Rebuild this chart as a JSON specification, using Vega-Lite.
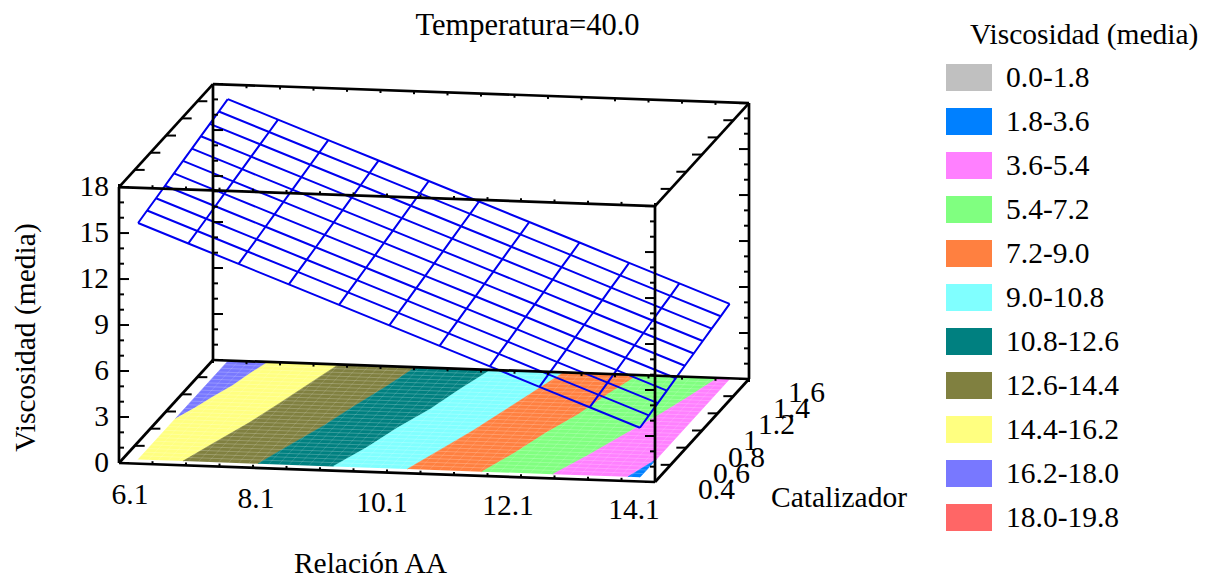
{
"$schema":"https://vega.github.io/schema/vega-lite/v6.json",
"width":1207,"height":576,"autosize":"none","padding":0,
"background":"white",
"title":{"text":"Temperatura=40.0","anchor":"middle","dx":-76,"dy":45,"fontSize":30.5,"font":"Liberation Serif","fontWeight":"normal","color":"#000000"},
"config":{"view":{"stroke":null},"text":{"font":"Liberation Serif","fontSize":29.5,"color":"#000000"}},
"datasets":{
"suelo":[
{"banda":"16.2-18.0","orden":1,"relacion":6.33,"catalizador":0.919},{"banda":"16.2-18.0","orden":2,"relacion":6.33,"catalizador":1.592},{"banda":"16.2-18.0","orden":3,"relacion":6.915,"catalizador":1.592},{"banda":"16.2-18.0","orden":4,"relacion":6.81,"catalizador":1.46},{"banda":"16.2-18.0","orden":5,"relacion":6.72,"catalizador":1.32},{"banda":"16.2-18.0","orden":6,"relacion":6.58,"catalizador":1.18},{"banda":"16.2-18.0","orden":7,"relacion":6.47,"catalizador":1.05},
{"banda":"14.4-16.2","orden":1,"relacion":6.33,"catalizador":0.447},{"banda":"14.4-16.2","orden":2,"relacion":6.33,"catalizador":0.919},{"banda":"14.4-16.2","orden":3,"relacion":6.47,"catalizador":1.05},{"banda":"14.4-16.2","orden":4,"relacion":6.58,"catalizador":1.18},{"banda":"14.4-16.2","orden":5,"relacion":6.72,"catalizador":1.32},{"banda":"14.4-16.2","orden":6,"relacion":6.81,"catalizador":1.46},{"banda":"14.4-16.2","orden":7,"relacion":6.915,"catalizador":1.592},{"banda":"14.4-16.2","orden":8,"relacion":7.97,"catalizador":1.592},{"banda":"14.4-16.2","orden":9,"relacion":7.80,"catalizador":1.363},{"banda":"14.4-16.2","orden":10,"relacion":7.63,"catalizador":1.134},{"banda":"14.4-16.2","orden":11,"relacion":7.45,"catalizador":0.905},{"banda":"14.4-16.2","orden":12,"relacion":7.22,"catalizador":0.676},{"banda":"14.4-16.2","orden":13,"relacion":7.00,"catalizador":0.447},
{"banda":"12.6-14.4","orden":1,"relacion":7.00,"catalizador":0.447},{"banda":"12.6-14.4","orden":2,"relacion":7.22,"catalizador":0.676},{"banda":"12.6-14.4","orden":3,"relacion":7.45,"catalizador":0.905},{"banda":"12.6-14.4","orden":4,"relacion":7.63,"catalizador":1.134},{"banda":"12.6-14.4","orden":5,"relacion":7.80,"catalizador":1.363},{"banda":"12.6-14.4","orden":6,"relacion":7.97,"catalizador":1.592},{"banda":"12.6-14.4","orden":7,"relacion":9.12,"catalizador":1.592},{"banda":"12.6-14.4","orden":8,"relacion":8.95,"catalizador":1.363},{"banda":"12.6-14.4","orden":9,"relacion":8.75,"catalizador":1.134},{"banda":"12.6-14.4","orden":10,"relacion":8.57,"catalizador":0.905},{"banda":"12.6-14.4","orden":11,"relacion":8.34,"catalizador":0.676},{"banda":"12.6-14.4","orden":12,"relacion":8.12,"catalizador":0.447},
{"banda":"10.8-12.6","orden":1,"relacion":8.12,"catalizador":0.447},{"banda":"10.8-12.6","orden":2,"relacion":8.34,"catalizador":0.676},{"banda":"10.8-12.6","orden":3,"relacion":8.57,"catalizador":0.905},{"banda":"10.8-12.6","orden":4,"relacion":8.75,"catalizador":1.134},{"banda":"10.8-12.6","orden":5,"relacion":8.95,"catalizador":1.363},{"banda":"10.8-12.6","orden":6,"relacion":9.12,"catalizador":1.592},{"banda":"10.8-12.6","orden":7,"relacion":10.24,"catalizador":1.592},{"banda":"10.8-12.6","orden":8,"relacion":10.05,"catalizador":1.363},{"banda":"10.8-12.6","orden":9,"relacion":9.89,"catalizador":1.134},{"banda":"10.8-12.6","orden":10,"relacion":9.66,"catalizador":0.905},{"banda":"10.8-12.6","orden":11,"relacion":9.48,"catalizador":0.676},{"banda":"10.8-12.6","orden":12,"relacion":9.24,"catalizador":0.447},
{"banda":"9.0-10.8","orden":1,"relacion":9.24,"catalizador":0.447},{"banda":"9.0-10.8","orden":2,"relacion":9.48,"catalizador":0.676},{"banda":"9.0-10.8","orden":3,"relacion":9.66,"catalizador":0.905},{"banda":"9.0-10.8","orden":4,"relacion":9.89,"catalizador":1.134},{"banda":"9.0-10.8","orden":5,"relacion":10.05,"catalizador":1.363},{"banda":"9.0-10.8","orden":6,"relacion":10.24,"catalizador":1.592},{"banda":"9.0-10.8","orden":7,"relacion":11.33,"catalizador":1.592},{"banda":"9.0-10.8","orden":8,"relacion":11.15,"catalizador":1.363},{"banda":"9.0-10.8","orden":9,"relacion":10.97,"catalizador":1.134},{"banda":"9.0-10.8","orden":10,"relacion":10.79,"catalizador":0.905},{"banda":"9.0-10.8","orden":11,"relacion":10.57,"catalizador":0.676},{"banda":"9.0-10.8","orden":12,"relacion":10.35,"catalizador":0.447},
{"banda":"7.2-9.0","orden":1,"relacion":10.35,"catalizador":0.447},{"banda":"7.2-9.0","orden":2,"relacion":10.57,"catalizador":0.676},{"banda":"7.2-9.0","orden":3,"relacion":10.79,"catalizador":0.905},{"banda":"7.2-9.0","orden":4,"relacion":10.97,"catalizador":1.134},{"banda":"7.2-9.0","orden":5,"relacion":11.15,"catalizador":1.363},{"banda":"7.2-9.0","orden":6,"relacion":11.33,"catalizador":1.592},{"banda":"7.2-9.0","orden":7,"relacion":12.44,"catalizador":1.592},{"banda":"7.2-9.0","orden":8,"relacion":12.25,"catalizador":1.363},{"banda":"7.2-9.0","orden":9,"relacion":12.10,"catalizador":1.134},{"banda":"7.2-9.0","orden":10,"relacion":11.87,"catalizador":0.905},{"banda":"7.2-9.0","orden":11,"relacion":11.69,"catalizador":0.676},{"banda":"7.2-9.0","orden":12,"relacion":11.46,"catalizador":0.447},
{"banda":"5.4-7.2","orden":1,"relacion":11.46,"catalizador":0.447},{"banda":"5.4-7.2","orden":2,"relacion":11.69,"catalizador":0.676},{"banda":"5.4-7.2","orden":3,"relacion":11.87,"catalizador":0.905},{"banda":"5.4-7.2","orden":4,"relacion":12.10,"catalizador":1.134},{"banda":"5.4-7.2","orden":5,"relacion":12.25,"catalizador":1.363},{"banda":"5.4-7.2","orden":6,"relacion":12.44,"catalizador":1.592},{"banda":"5.4-7.2","orden":7,"relacion":13.63,"catalizador":1.592},{"banda":"5.4-7.2","orden":8,"relacion":13.45,"catalizador":1.363},{"banda":"5.4-7.2","orden":9,"relacion":13.25,"catalizador":1.134},{"banda":"5.4-7.2","orden":10,"relacion":13.01,"catalizador":0.905},{"banda":"5.4-7.2","orden":11,"relacion":12.78,"catalizador":0.676},{"banda":"5.4-7.2","orden":12,"relacion":12.52,"catalizador":0.447},
{"banda":"3.6-5.4","orden":1,"relacion":12.52,"catalizador":0.447},{"banda":"3.6-5.4","orden":2,"relacion":12.78,"catalizador":0.676},{"banda":"3.6-5.4","orden":3,"relacion":13.01,"catalizador":0.905},{"banda":"3.6-5.4","orden":4,"relacion":13.25,"catalizador":1.134},{"banda":"3.6-5.4","orden":5,"relacion":13.45,"catalizador":1.363},{"banda":"3.6-5.4","orden":6,"relacion":13.63,"catalizador":1.592},{"banda":"3.6-5.4","orden":7,"relacion":13.82,"catalizador":1.592},{"banda":"3.6-5.4","orden":8,"relacion":13.82,"catalizador":0.655},{"banda":"3.6-5.4","orden":9,"relacion":13.73,"catalizador":0.55},{"banda":"3.6-5.4","orden":10,"relacion":13.64,"catalizador":0.447},
{"banda":"1.8-3.6","orden":1,"relacion":13.64,"catalizador":0.447},{"banda":"1.8-3.6","orden":2,"relacion":13.73,"catalizador":0.55},{"banda":"1.8-3.6","orden":3,"relacion":13.82,"catalizador":0.655},{"banda":"1.8-3.6","orden":4,"relacion":13.82,"catalizador":0.447}
],
"malla":[
{"relacion":6.33,"catalizador":0.447,"viscosidad":15.43},{"relacion":6.33,"catalizador":0.562,"viscosidad":15.60},{"relacion":6.33,"catalizador":0.676,"viscosidad":15.76},{"relacion":6.33,"catalizador":0.791,"viscosidad":15.93},{"relacion":6.33,"catalizador":0.905,"viscosidad":16.10},{"relacion":6.33,"catalizador":1.02,"viscosidad":16.27},{"relacion":6.33,"catalizador":1.134,"viscosidad":16.43},{"relacion":6.33,"catalizador":1.249,"viscosidad":16.60},{"relacion":6.33,"catalizador":1.363,"viscosidad":16.77},{"relacion":6.33,"catalizador":1.478,"viscosidad":16.93},{"relacion":6.33,"catalizador":1.592,"viscosidad":17.10},
{"relacion":7.08,"catalizador":0.447,"viscosidad":14.21},{"relacion":7.08,"catalizador":0.562,"viscosidad":14.38},{"relacion":7.08,"catalizador":0.676,"viscosidad":14.54},{"relacion":7.08,"catalizador":0.791,"viscosidad":14.71},{"relacion":7.08,"catalizador":0.905,"viscosidad":14.88},{"relacion":7.08,"catalizador":1.02,"viscosidad":15.05},{"relacion":7.08,"catalizador":1.134,"viscosidad":15.21},{"relacion":7.08,"catalizador":1.249,"viscosidad":15.38},{"relacion":7.08,"catalizador":1.363,"viscosidad":15.55},{"relacion":7.08,"catalizador":1.478,"viscosidad":15.71},{"relacion":7.08,"catalizador":1.592,"viscosidad":15.88},
{"relacion":7.83,"catalizador":0.447,"viscosidad":12.99},{"relacion":7.83,"catalizador":0.562,"viscosidad":13.16},{"relacion":7.83,"catalizador":0.676,"viscosidad":13.32},{"relacion":7.83,"catalizador":0.791,"viscosidad":13.49},{"relacion":7.83,"catalizador":0.905,"viscosidad":13.66},{"relacion":7.83,"catalizador":1.02,"viscosidad":13.83},{"relacion":7.83,"catalizador":1.134,"viscosidad":13.99},{"relacion":7.83,"catalizador":1.249,"viscosidad":14.16},{"relacion":7.83,"catalizador":1.363,"viscosidad":14.33},{"relacion":7.83,"catalizador":1.478,"viscosidad":14.49},{"relacion":7.83,"catalizador":1.592,"viscosidad":14.66},
{"relacion":8.58,"catalizador":0.447,"viscosidad":11.77},{"relacion":8.58,"catalizador":0.562,"viscosidad":11.94},{"relacion":8.58,"catalizador":0.676,"viscosidad":12.10},{"relacion":8.58,"catalizador":0.791,"viscosidad":12.27},{"relacion":8.58,"catalizador":0.905,"viscosidad":12.44},{"relacion":8.58,"catalizador":1.02,"viscosidad":12.61},{"relacion":8.58,"catalizador":1.134,"viscosidad":12.77},{"relacion":8.58,"catalizador":1.249,"viscosidad":12.94},{"relacion":8.58,"catalizador":1.363,"viscosidad":13.11},{"relacion":8.58,"catalizador":1.478,"viscosidad":13.27},{"relacion":8.58,"catalizador":1.592,"viscosidad":13.44},
{"relacion":9.33,"catalizador":0.447,"viscosidad":10.55},{"relacion":9.33,"catalizador":0.562,"viscosidad":10.72},{"relacion":9.33,"catalizador":0.676,"viscosidad":10.88},{"relacion":9.33,"catalizador":0.791,"viscosidad":11.05},{"relacion":9.33,"catalizador":0.905,"viscosidad":11.22},{"relacion":9.33,"catalizador":1.02,"viscosidad":11.39},{"relacion":9.33,"catalizador":1.134,"viscosidad":11.55},{"relacion":9.33,"catalizador":1.249,"viscosidad":11.72},{"relacion":9.33,"catalizador":1.363,"viscosidad":11.89},{"relacion":9.33,"catalizador":1.478,"viscosidad":12.05},{"relacion":9.33,"catalizador":1.592,"viscosidad":12.22},
{"relacion":10.08,"catalizador":0.447,"viscosidad":9.33},{"relacion":10.08,"catalizador":0.562,"viscosidad":9.50},{"relacion":10.08,"catalizador":0.676,"viscosidad":9.66},{"relacion":10.08,"catalizador":0.791,"viscosidad":9.83},{"relacion":10.08,"catalizador":0.905,"viscosidad":10.00},{"relacion":10.08,"catalizador":1.02,"viscosidad":10.17},{"relacion":10.08,"catalizador":1.134,"viscosidad":10.33},{"relacion":10.08,"catalizador":1.249,"viscosidad":10.50},{"relacion":10.08,"catalizador":1.363,"viscosidad":10.67},{"relacion":10.08,"catalizador":1.478,"viscosidad":10.83},{"relacion":10.08,"catalizador":1.592,"viscosidad":11.00},
{"relacion":10.83,"catalizador":0.447,"viscosidad":8.11},{"relacion":10.83,"catalizador":0.562,"viscosidad":8.28},{"relacion":10.83,"catalizador":0.676,"viscosidad":8.44},{"relacion":10.83,"catalizador":0.791,"viscosidad":8.61},{"relacion":10.83,"catalizador":0.905,"viscosidad":8.78},{"relacion":10.83,"catalizador":1.02,"viscosidad":8.95},{"relacion":10.83,"catalizador":1.134,"viscosidad":9.11},{"relacion":10.83,"catalizador":1.249,"viscosidad":9.28},{"relacion":10.83,"catalizador":1.363,"viscosidad":9.45},{"relacion":10.83,"catalizador":1.478,"viscosidad":9.61},{"relacion":10.83,"catalizador":1.592,"viscosidad":9.78},
{"relacion":11.58,"catalizador":0.447,"viscosidad":6.89},{"relacion":11.58,"catalizador":0.562,"viscosidad":7.06},{"relacion":11.58,"catalizador":0.676,"viscosidad":7.22},{"relacion":11.58,"catalizador":0.791,"viscosidad":7.39},{"relacion":11.58,"catalizador":0.905,"viscosidad":7.56},{"relacion":11.58,"catalizador":1.02,"viscosidad":7.73},{"relacion":11.58,"catalizador":1.134,"viscosidad":7.89},{"relacion":11.58,"catalizador":1.249,"viscosidad":8.06},{"relacion":11.58,"catalizador":1.363,"viscosidad":8.23},{"relacion":11.58,"catalizador":1.478,"viscosidad":8.39},{"relacion":11.58,"catalizador":1.592,"viscosidad":8.56},
{"relacion":12.32,"catalizador":0.447,"viscosidad":5.67},{"relacion":12.32,"catalizador":0.562,"viscosidad":5.84},{"relacion":12.32,"catalizador":0.676,"viscosidad":6.00},{"relacion":12.32,"catalizador":0.791,"viscosidad":6.17},{"relacion":12.32,"catalizador":0.905,"viscosidad":6.34},{"relacion":12.32,"catalizador":1.02,"viscosidad":6.51},{"relacion":12.32,"catalizador":1.134,"viscosidad":6.67},{"relacion":12.32,"catalizador":1.249,"viscosidad":6.84},{"relacion":12.32,"catalizador":1.363,"viscosidad":7.01},{"relacion":12.32,"catalizador":1.478,"viscosidad":7.17},{"relacion":12.32,"catalizador":1.592,"viscosidad":7.34},
{"relacion":13.07,"catalizador":0.447,"viscosidad":4.45},{"relacion":13.07,"catalizador":0.562,"viscosidad":4.62},{"relacion":13.07,"catalizador":0.676,"viscosidad":4.78},{"relacion":13.07,"catalizador":0.791,"viscosidad":4.95},{"relacion":13.07,"catalizador":0.905,"viscosidad":5.12},{"relacion":13.07,"catalizador":1.02,"viscosidad":5.29},{"relacion":13.07,"catalizador":1.134,"viscosidad":5.45},{"relacion":13.07,"catalizador":1.249,"viscosidad":5.62},{"relacion":13.07,"catalizador":1.363,"viscosidad":5.79},{"relacion":13.07,"catalizador":1.478,"viscosidad":5.95},{"relacion":13.07,"catalizador":1.592,"viscosidad":6.12},
{"relacion":13.82,"catalizador":0.447,"viscosidad":3.23},{"relacion":13.82,"catalizador":0.562,"viscosidad":3.40},{"relacion":13.82,"catalizador":0.676,"viscosidad":3.56},{"relacion":13.82,"catalizador":0.791,"viscosidad":3.73},{"relacion":13.82,"catalizador":0.905,"viscosidad":3.90},{"relacion":13.82,"catalizador":1.02,"viscosidad":4.07},{"relacion":13.82,"catalizador":1.134,"viscosidad":4.23},{"relacion":13.82,"catalizador":1.249,"viscosidad":4.40},{"relacion":13.82,"catalizador":1.363,"viscosidad":4.57},{"relacion":13.82,"catalizador":1.478,"viscosidad":4.73},{"relacion":13.82,"catalizador":1.592,"viscosidad":4.90}
]
},
"encoding":{
"x":{"field":"px","type":"quantitative","scale":{"domain":[0,1207],"nice":false,"zero":false},"axis":{"domain":false,"ticks":false,"labels":false,"grid":false,"title":"Relación AA","titleFont":"Liberation Serif","titleFontSize":29.5,"titleFontWeight":"normal","titleColor":"#000000","titleX":370,"titleY":-13,"titleAlign":"center","titleBaseline":"middle"}},
"y":{"field":"py","type":"quantitative","scale":{"domain":[576,0],"nice":false,"zero":false},"axis":{"domain":false,"ticks":false,"labels":false,"grid":false,"title":"Viscosidad (media)","titleFont":"Liberation Serif","titleFontSize":29.5,"titleFontWeight":"normal","titleColor":"#000000","titleX":25,"titleY":337,"titleAngle":270,"titleAlign":"center","titleBaseline":"middle"}}
},
"layer":[
{"data":{"name":"suelo"},
"transform":[{"calculate":"119+67*(datum.relacion-6.1)+78.33*(datum.catalizador-0.4)","as":"px"},{"calculate":"463+2.375*(datum.relacion-6.1)-85.83*(datum.catalizador-0.4)","as":"py"}],
"mark":{"type":"line","strokeWidth":0.6},
"encoding":{
"order":{"field":"orden","type":"quantitative"},
"fill":{"field":"banda","type":"nominal","scale":{"domain":["0.0-1.8","1.8-3.6","3.6-5.4","5.4-7.2","7.2-9.0","9.0-10.8","10.8-12.6","12.6-14.4","14.4-16.2","16.2-18.0","18.0-19.8"],"range":["#C0C0C0","#0080FF","#FF80FF","#80FF80","#FF8040","#80FFFF","#008080","#808040","#FFFF80","#7878FF","#FF6666"]},
"legend":{"orient":"none","legendX":970,"legendY":21,"title":"Viscosidad (media)","titleFont":"Liberation Serif","titleFontSize":29.5,"titleFontWeight":"normal","titleColor":"#000000","titlePadding":7,"labelFont":"Liberation Serif","labelFontSize":29.5,"labelColor":"#000000","symbolType":"M-1.15,-0.675H1.15V0.675H-1.15Z","symbolSize":1600,"symbolOpacity":1,"symbolStrokeWidth":0,"symbolOffset":-21,"labelOffset":17,"rowPadding":9,"labelLimit":300,"titleLimit":400,"values":["0.0-1.8","1.8-3.6","3.6-5.4","5.4-7.2","7.2-9.0","9.0-10.8","10.8-12.6","12.6-14.4","14.4-16.2","16.2-18.0","18.0-19.8"]}},
"stroke":{"field":"banda","type":"nominal","legend":null,"scale":{"domain":["0.0-1.8","1.8-3.6","3.6-5.4","5.4-7.2","7.2-9.0","9.0-10.8","10.8-12.6","12.6-14.4","14.4-16.2","16.2-18.0","18.0-19.8"],"range":["#C0C0C0","#0080FF","#FF80FF","#80FF80","#FF8040","#80FFFF","#008080","#808040","#FFFF80","#7878FF","#FF6666"]}}
}},
{"data":{"values":[{"relacion":6.33,"relacion2":13.82,"catalizador":[0.49,0.532,0.575,0.617,0.66,0.702,0.745,0.787,0.83,0.872,0.915,0.957,1.0,1.042,1.085,1.127,1.17,1.212,1.255,1.297,1.34,1.382,1.425,1.467,1.51,1.552]}]},
"transform":[{"flatten":["catalizador"]},{"calculate":"119+67*(datum.relacion-6.1)+78.33*(datum.catalizador-0.4)","as":"px"},{"calculate":"463+2.375*(datum.relacion-6.1)-85.83*(datum.catalizador-0.4)","as":"py"},{"calculate":"119+67*(datum.relacion2-6.1)+78.33*(datum.catalizador-0.4)","as":"px2"},{"calculate":"463+2.375*(datum.relacion2-6.1)-85.83*(datum.catalizador-0.4)","as":"py2"}],
"mark":{"type":"rule","color":"#FFFFFF","opacity":0.28,"strokeWidth":0.8},
"encoding":{"x2":{"field":"px2"},"y2":{"field":"py2"}}},
{"data":{"values":[{"catalizador":0.447,"catalizador2":1.592,"relacion":[6.48,6.63,6.78,6.93,7.08,7.23,7.38,7.53,7.68,7.83,7.98,8.13,8.28,8.43,8.58,8.73,8.88,9.03,9.18,9.33,9.48,9.63,9.78,9.93,10.08,10.23,10.38,10.53,10.68,10.83,10.98,11.13,11.28,11.43,11.58,11.73,11.88,12.03,12.18,12.33,12.48,12.63,12.78,12.93,13.08,13.23,13.38,13.53,13.68]}]},
"transform":[{"flatten":["relacion"]},{"calculate":"119+67*(datum.relacion-6.1)+78.33*(datum.catalizador-0.4)","as":"px"},{"calculate":"463+2.375*(datum.relacion-6.1)-85.83*(datum.catalizador-0.4)","as":"py"},{"calculate":"119+67*(datum.relacion-6.1)+78.33*(datum.catalizador2-0.4)","as":"px2"},{"calculate":"463+2.375*(datum.relacion-6.1)-85.83*(datum.catalizador2-0.4)","as":"py2"}],
"mark":{"type":"rule","color":"#FFFFFF","opacity":0.16,"strokeWidth":0.8},
"encoding":{"x2":{"field":"px2"},"y2":{"field":"py2"}}},
{"data":{"name":"malla"},
"transform":[{"calculate":"119+67*(datum.relacion-6.1)+78.33*(datum.catalizador-0.4)","as":"px"},{"calculate":"463+2.375*(datum.relacion-6.1)-85.83*(datum.catalizador-0.4)-15.33*datum.viscosidad","as":"py"}],
"mark":{"type":"line","color":"#0000F0","strokeWidth":2},
"encoding":{"detail":{"field":"catalizador","type":"nominal"},"order":{"field":"relacion","type":"quantitative"}}},
{"data":{"name":"malla"},
"transform":[{"calculate":"119+67*(datum.relacion-6.1)+78.33*(datum.catalizador-0.4)","as":"px"},{"calculate":"463+2.375*(datum.relacion-6.1)-85.83*(datum.catalizador-0.4)-15.33*datum.viscosidad","as":"py"}],
"mark":{"type":"line","color":"#0000F0","strokeWidth":2},
"encoding":{"detail":{"field":"relacion","type":"nominal"},"order":{"field":"catalizador","type":"quantitative"}}},
{"data":{"values":[
{"relacion":6.1,"catalizador":0.4,"viscosidad":0,"relacion2":14.1,"catalizador2":0.4,"viscosidad2":0},
{"relacion":6.1,"catalizador":1.6,"viscosidad":0,"relacion2":14.1,"catalizador2":1.6,"viscosidad2":0},
{"relacion":6.1,"catalizador":0.4,"viscosidad":18,"relacion2":14.1,"catalizador2":0.4,"viscosidad2":18},
{"relacion":6.1,"catalizador":1.6,"viscosidad":18,"relacion2":14.1,"catalizador2":1.6,"viscosidad2":18},
{"relacion":6.1,"catalizador":0.4,"viscosidad":0,"relacion2":6.1,"catalizador2":1.6,"viscosidad2":0},
{"relacion":14.1,"catalizador":0.4,"viscosidad":0,"relacion2":14.1,"catalizador2":1.6,"viscosidad2":0},
{"relacion":6.1,"catalizador":0.4,"viscosidad":18,"relacion2":6.1,"catalizador2":1.6,"viscosidad2":18},
{"relacion":14.1,"catalizador":0.4,"viscosidad":18,"relacion2":14.1,"catalizador2":1.6,"viscosidad2":18},
{"relacion":6.1,"catalizador":0.4,"viscosidad":0,"relacion2":6.1,"catalizador2":0.4,"viscosidad2":18},
{"relacion":6.1,"catalizador":1.6,"viscosidad":0,"relacion2":6.1,"catalizador2":1.6,"viscosidad2":18},
{"relacion":14.1,"catalizador":0.4,"viscosidad":0,"relacion2":14.1,"catalizador2":0.4,"viscosidad2":18},
{"relacion":14.1,"catalizador":1.6,"viscosidad":0,"relacion2":14.1,"catalizador2":1.6,"viscosidad2":18}
]},
"transform":[{"calculate":"119+67*(datum.relacion-6.1)+78.33*(datum.catalizador-0.4)","as":"px"},{"calculate":"463+2.375*(datum.relacion-6.1)-85.83*(datum.catalizador-0.4)-15.33*datum.viscosidad","as":"py"},{"calculate":"119+67*(datum.relacion2-6.1)+78.33*(datum.catalizador2-0.4)","as":"px2"},{"calculate":"463+2.375*(datum.relacion2-6.1)-85.83*(datum.catalizador2-0.4)-15.33*datum.viscosidad2","as":"py2"}],
"mark":{"type":"rule","color":"#000000","strokeWidth":2.7},
"encoding":{"x2":{"field":"px2"},"y2":{"field":"py2"}}},
{"data":{"values":[
{"eje":"v","relacion":[6.1,14.1],"catalizador":[0.4,1.6],"viscosidad":[0,1,2,3,4,5,6,7,8,9,10,11,12,13,14,15,16,17,18]},
{"eje":"r","relacion":[6.1,6.6,7.1,7.6,8.1,8.6,9.1,9.6,10.1,10.6,11.1,11.6,12.1,12.6,13.1,13.6,14.1],"catalizador":[0.4,1.6],"viscosidad":[0,18]},
{"eje":"c","relacion":[6.1,14.1],"catalizador":[0.4,0.6,0.8,1.0,1.2,1.4,1.6],"viscosidad":[0,18]}
]},
"transform":[{"flatten":["relacion"]},{"flatten":["catalizador"]},{"flatten":["viscosidad"]},
{"calculate":"119+67*(datum.relacion-6.1)+78.33*(datum.catalizador-0.4)","as":"px"},{"calculate":"463+2.375*(datum.relacion-6.1)-85.83*(datum.catalizador-0.4)-15.33*datum.viscosidad","as":"py"},
{"calculate":"datum.px+(datum.relacion<10?1:-1)*(datum.eje=='r'?0:datum.eje=='c'?10:(datum.viscosidad%3==0?10:5))","as":"px2"},
{"calculate":"datum.py+(datum.eje=='r'?(datum.catalizador<1?-3:3):0)","as":"py2"}],
"mark":{"type":"rule","color":"#000000","strokeWidth":2},
"encoding":{"x2":{"field":"px2"},"y2":{"field":"py2"}}},
{"data":{"values":[{"etiqueta":"18","viscosidad":18},{"etiqueta":"15","viscosidad":15},{"etiqueta":"12","viscosidad":12},{"etiqueta":"9","viscosidad":9},{"etiqueta":"6","viscosidad":6},{"etiqueta":"3","viscosidad":3},{"etiqueta":"0","viscosidad":0}]},
"transform":[{"calculate":"109","as":"px"},{"calculate":"463-15.33*datum.viscosidad","as":"py"}],
"mark":{"type":"text","align":"right","baseline":"middle"},
"encoding":{"text":{"field":"etiqueta"}}},
{"data":{"values":[{"etiqueta":"6.1","relacion":6.1},{"etiqueta":"8.1","relacion":8.1},{"etiqueta":"10.1","relacion":10.1},{"etiqueta":"12.1","relacion":12.1},{"etiqueta":"14.1","relacion":14.1}]},
"transform":[{"calculate":"130+63*(datum.relacion-6.1)","as":"px"},{"calculate":"495+1.875*(datum.relacion-6.1)","as":"py"}],
"mark":{"type":"text","align":"center","baseline":"middle"},
"encoding":{"text":{"field":"etiqueta"}}},
{"data":{"values":[{"etiqueta":"0.4","catalizador":0.4},{"etiqueta":"0.6","catalizador":0.6},{"etiqueta":"0.8","catalizador":0.8},{"etiqueta":"1","catalizador":1.0},{"etiqueta":"1.2","catalizador":1.2},{"etiqueta":"1.4","catalizador":1.4},{"etiqueta":"1.6","catalizador":1.6}]},
"transform":[{"calculate":"698+75*(datum.catalizador-0.4)","as":"px"},{"calculate":"490-81*(datum.catalizador-0.4)","as":"py"}],
"mark":{"type":"text","align":"left","baseline":"middle"},
"encoding":{"text":{"field":"etiqueta"}}},
{"data":{"values":[{"etiqueta":"Catalizador","catalizador":1.0}]},
"transform":[{"calculate":"771","as":"px"},{"calculate":"498","as":"py"}],
"mark":{"type":"text","align":"left","baseline":"middle"},
"encoding":{"text":{"field":"etiqueta"}}}
]
}
